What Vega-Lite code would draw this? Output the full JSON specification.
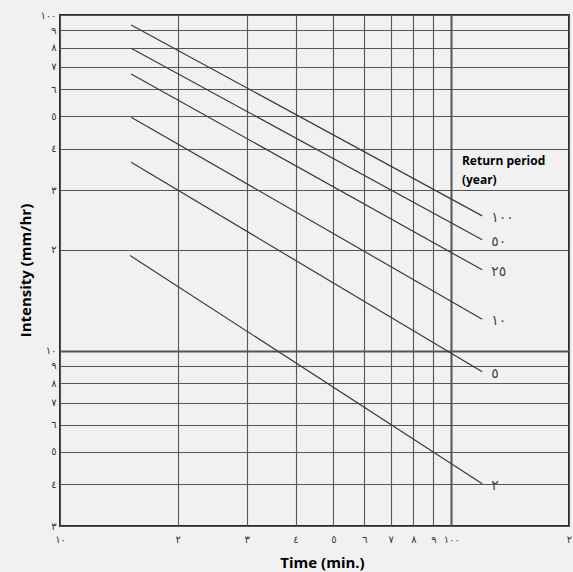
{
  "$schema": "https://vega.github.io/schema/vega-lite/v6.json",
  "width": 509,
  "height": 511,
  "autosize": {"type": "none"},
  "padding": {"left": 60, "top": 15, "right": 4, "bottom": 46},
  "background": "#f1f1f1",
  "config": {
    "view": {"stroke": "#2a2a2a", "strokeWidth": 2},
    "axis": {"ticks": false, "domain": false, "labelFont": "DejaVu Sans", "labelFontSize": 10, "labelColor": "#333333", "titleFont": "Open Sans", "titleFontWeight": "bold", "titleFontSize": 15, "titleColor": "#000000"}
  },
  "datasets": {
    "curves": [
      {"period": 100, "label": "١٠٠", "t": 15.2, "i": 93.4},
      {"period": 100, "label": "١٠٠", "t": 120, "i": 25.2},
      {"period": 50, "label": "٥٠", "t": 15.2, "i": 79.6},
      {"period": 50, "label": "٥٠", "t": 120, "i": 21.4},
      {"period": 25, "label": "٢٥", "t": 15.2, "i": 66.7},
      {"period": 25, "label": "٢٥", "t": 120, "i": 17.4},
      {"period": 10, "label": "١٠", "t": 15.2, "i": 49.6},
      {"period": 10, "label": "١٠", "t": 120, "i": 12.4},
      {"period": 5, "label": "٥", "t": 15.2, "i": 36.4},
      {"period": 5, "label": "٥", "t": 120, "i": 8.64},
      {"period": 2, "label": "٢", "t": 15.1, "i": 19.2},
      {"period": 2, "label": "٢", "t": 120, "i": 4.01}
    ],
    "note": [
      {"text": "Return period\n(year)", "t": 106.5, "i": 38.0}
    ]
  },
  "layer": [
    {
      "data": {"name": "curves"},
      "mark": {"type": "line", "color": "#3a3a3a", "strokeWidth": 1.2},
      "encoding": {
        "x": {
          "field": "t", "type": "quantitative",
          "scale": {"type": "log", "domain": [10, 200], "nice": false},
          "axis": {
            "title": "Time (min.)",
            "titleX": 262, "titleY": 36, "titleBaseline": "middle",
            "values": [10, 20, 30, 40, 50, 60, 70, 80, 90, 100, 200],
            "labelExpr": "datum.value == 10 ? '١٠' : datum.value == 100 ? '١٠٠' : substring('٠١٢٣٤٥٦٧٨٩', datum.value < 100 ? datum.value / 10 : datum.value / 100, (datum.value < 100 ? datum.value / 10 : datum.value / 100) + 1)",
            "labelPadding": 8,
            "labelFlush": false,
            "grid": true,
            "gridColor": "#555555",
            "gridWidth": {"condition": {"test": "datum.value == 100", "value": 2}, "value": 1.1}
          }
        },
        "y": {
          "field": "i", "type": "quantitative",
          "scale": {"type": "log", "domain": [3, 100], "nice": false},
          "axis": {
            "title": "Intensity (mm/hr)",
            "titleX": -35, "titleY": 255, "titleAngle": -90, "titleAlign": "center", "titleBaseline": "middle",
            "values": [3, 4, 5, 6, 7, 8, 9, 10, 20, 30, 40, 50, 60, 70, 80, 90, 100],
            "labelExpr": "datum.value == 10 ? '١٠' : datum.value == 100 ? '١٠٠' : substring('٠١٢٣٤٥٦٧٨٩', datum.value < 10 ? datum.value : datum.value / 10, (datum.value < 10 ? datum.value : datum.value / 10) + 1)",
            "labelPadding": 4,
            "labelFlush": false,
            "grid": true,
            "gridColor": "#555555",
            "gridWidth": {"condition": {"test": "datum.value == 10", "value": 2.2}, "value": 1.1}
          }
        },
        "detail": {"field": "period", "type": "nominal"}
      }
    },
    {
      "data": {"name": "curves"},
      "transform": [{"filter": "datum.t == 120"}],
      "mark": {"type": "text", "align": "left", "baseline": "middle", "dx": 9, "dy": 2, "font": "DejaVu Sans", "fontSize": 14, "color": "#444444"},
      "encoding": {
        "x": {"field": "t", "type": "quantitative"},
        "y": {"field": "i", "type": "quantitative"},
        "text": {"field": "label", "type": "nominal"}
      }
    },
    {
      "data": {"name": "note"},
      "mark": {"type": "text", "align": "left", "baseline": "top", "lineBreak": "\n", "font": "Open Sans", "fontWeight": "bold", "fontSize": 12, "lineHeight": 19, "color": "#000000"},
      "encoding": {
        "x": {"field": "t", "type": "quantitative"},
        "y": {"field": "i", "type": "quantitative"},
        "text": {"field": "text", "type": "nominal"}
      }
    }
  ]
}
